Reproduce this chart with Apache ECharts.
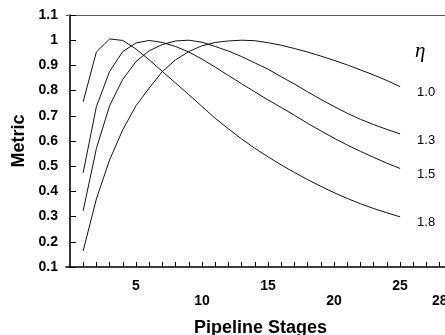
<!DOCTYPE html>
<html>
<head>
<meta charset="utf-8">
<script src="https://cdn.jsdelivr.net/npm/echarts@6/dist/echarts.min.js"></script>
<style>
  html, body { margin: 0; padding: 0; background: #fff; }
  #chart { width: 445px; height: 335px; }
</style>
</head>
<body>
<div id="chart"></div>
<script>
// pipeline depth 1..25
const stages = [1, 2, 3, 4, 5, 6, 7, 8, 9, 10, 11, 12, 13, 14, 15, 16, 17, 18, 19, 20, 21, 22, 23, 24, 25];
const eta10 = [0.164, 0.37, 0.525, 0.645, 0.74, 0.81, 0.876, 0.922, 0.955, 0.978, 0.991, 0.997, 1.0, 0.998, 0.99, 0.98, 0.967, 0.953, 0.937, 0.92, 0.902, 0.882, 0.862, 0.84, 0.816];
const eta13 = [0.323, 0.57, 0.74, 0.845, 0.915, 0.958, 0.983, 0.997, 1.0, 0.992, 0.975, 0.957, 0.935, 0.91, 0.885, 0.855, 0.826, 0.795, 0.765, 0.737, 0.71, 0.686, 0.665, 0.646, 0.628];
const eta15 = [0.474, 0.736, 0.876, 0.955, 0.989, 0.999, 0.991, 0.975, 0.953, 0.925, 0.893, 0.86, 0.827, 0.795, 0.763, 0.733, 0.702, 0.67, 0.64, 0.611, 0.584, 0.559, 0.535, 0.512, 0.491];
const eta18 = [0.756, 0.953, 1.005, 0.999, 0.965, 0.922, 0.876, 0.83, 0.784, 0.737, 0.69, 0.648, 0.608, 0.571, 0.537, 0.505, 0.475, 0.447, 0.42, 0.395, 0.372, 0.351, 0.332, 0.315, 0.299];
const etaNames = ["1.0", "1.3", "1.5", "1.8"];
const xTicks = [1, 2, 3, 4, 5, 6, 7, 8, 9, 10, 11, 12, 13, 14, 15, 16, 17, 18, 19, 20, 21, 22, 23, 24, 25, 26, 27, 28];
const xLabels = [5, 10, 15, 20, 25, 28];

const chart = echarts.init(document.getElementById("chart"));
const boldFont = "Liberation Sans";

chart.setOption({
  animation: false,
  grid: { left: 66, top: 15, right: 0, bottom: 68, outerBoundsMode: "none" },
  xAxis: [
    {
      type: "value",
      min: -0.3,
      max: 28.4,
      name: "Pipeline Stages",
      nameLocation: "middle",
      nameGap: 52,
      nameTextStyle: { fontFamily: boldFont, fontWeight: "bold", fontSize: 18, color: "#000", padding: [0, 0, 0, 10] },
      splitLine: { show: false },
      axisLine: { lineStyle: { color: "#000", width: 1.6 } },
      axisTick: { show: true, inside: true, length: 5, customValues: xTicks, lineStyle: { color: "#000", width: 1 } },
      axisLabel: {
        customValues: xLabels,
        margin: 12,
        fontFamily: boldFont,
        fontWeight: "bold",
        fontSize: 14,
        color: "#000",
        formatter: v => (v % 10 === 0 || v === 28) ? "{lo|" + v + "}" : "{hi|" + v + "}",
        rich: {
          hi: { fontFamily: boldFont, fontWeight: "bold", fontSize: 14, color: "#000" },
          lo: { fontFamily: boldFont, fontWeight: "bold", fontSize: 14, color: "#000", padding: [15, 0, 0, 0] }
        }
      }
    },
    {
      // top border only
      type: "value",
      position: "top",
      min: -0.3,
      max: 28.4,
      splitLine: { show: false },
      axisTick: { show: false },
      axisLabel: { show: false },
      axisLine: { lineStyle: { color: "#555", width: 1 } }
    }
  ],
  yAxis: {
    type: "value",
    min: 0.1,
    max: 1.1,
    interval: 0.1,
    name: "Metric",
    nameLocation: "middle",
    nameGap: 38,
    nameTextStyle: { fontFamily: boldFont, fontWeight: "bold", fontSize: 18, color: "#000" },
    splitLine: { show: false },
    axisLine: { show: true, lineStyle: { color: "#000", width: 1.6 } },
    axisTick: { show: true, inside: true, length: 6, lineStyle: { color: "#000", width: 1 } },
    axisLabel: {
      margin: 8,
      fontFamily: boldFont,
      fontWeight: "bold",
      fontSize: 14,
      color: "#000",
      formatter: v => String(Math.round(v * 10) / 10)
    }
  },
  series: [eta10, eta13, eta15, eta18].map((vals, i) => ({
    name: etaNames[i],
    type: "line",
    symbol: "none",
    data: stages.map((s, j) => [s, vals[j]]),
    lineStyle: { color: "#111", width: 1 },
    endLabel: {
      show: true,
      formatter: "{a}",
      distance: 0,
      offset: [17, 6],
      fontFamily: "Liberation Sans",
      fontSize: 13,
      color: "#000"
    }
  })),
  graphic: [
    {
      type: "text",
      left: 415,
      top: 41,
      style: { text: "η", font: "italic 21px 'Liberation Serif'", fill: "#000" }
    }
  ]
});
</script>
</body>
</html>
